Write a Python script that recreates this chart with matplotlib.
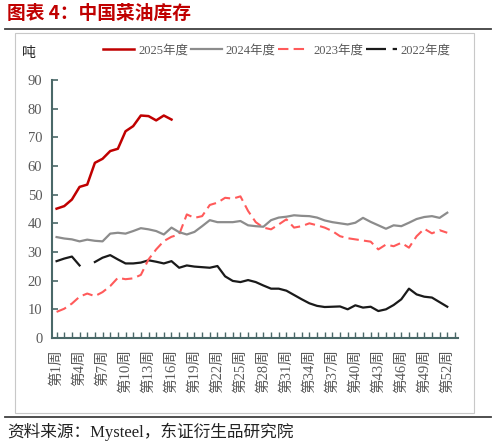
import numpy as np
import matplotlib.pyplot as plt
from matplotlib.lines import Line2D
from matplotlib.patches import Rectangle

plt.rcParams['font.family'] = ['Liberation Serif', 'Noto Sans CJK SC', 'DejaVu Sans']

# weekly rapeseed oil stock, by year (tons x10k)
weeks = np.arange(1, 54)
y2025 = [45.1, 46.0, 48.3, 52.7, 53.5, 61.1, 62.5, 65.2, 66.0, 72.1, 73.9, 77.6, 77.4, 75.9, 77.6, 76.2]
y2024 = [35.2, 34.7, 34.4, 33.7, 34.3, 33.9, 33.7, 36.4, 36.7, 36.4, 37.3, 38.3, 37.9, 37.3, 36.1, 38.5,
         36.9, 36.1, 37.0, 39.0, 41.1, 40.4, 40.4, 40.4, 40.8, 39.3, 39.0, 38.8, 41.1, 42.0, 42.3, 42.8,
         42.6, 42.5, 42.0, 41.0, 40.4, 40.0, 39.6, 40.2, 41.9, 40.5, 39.3, 38.1, 39.3, 39.0, 40.2, 41.5,
         42.2, 42.5, 41.9, 43.7]
y2023 = [9.1, 10.2, 12.0, 14.4, 15.5, 14.6, 16.0, 18.1, 21.0, 20.5, 20.8, 22.0, 27.4, 30.9, 33.8, 35.3,
         36.1, 43.1, 41.9, 42.5, 46.4, 47.2, 48.9, 48.6, 49.4, 44.3, 40.4, 38.5, 37.9, 39.6, 41.4, 38.5,
         39.0, 40.0, 39.3, 38.5, 37.3, 35.5, 34.8, 34.4, 34.0, 33.6, 30.9, 32.6, 32.0, 33.2, 31.5, 35.5,
         38.1, 36.5, 37.6, 36.7]
y2022 = [26.8, 27.7, 28.4, 25.3, np.nan, 26.5, 28.0, 28.9, 27.4, 26.0, 26.0, 26.3, 27.1, 26.6, 26.0, 26.8,
         24.5, 25.3, 24.9, 24.7, 24.5, 25.1, 21.5, 19.9, 19.5, 20.2, 19.5, 18.3, 17.2, 17.2, 16.5, 15.0,
         13.5, 12.1, 11.2, 10.8, 10.9, 11.0, 10.0, 11.4, 10.6, 10.9, 9.4, 10.0, 11.5, 13.5, 17.2, 15.2,
         14.4, 14.1, 12.5, 10.9]
labels = ['2025年度', '2024年度', '2023年度', '2022年度']
week_labels = ['第%d周' % w if (w - 1) % 3 == 0 else '' for w in weeks]

axis_col = '#4a6868'
txt_col = '#595959'

fig = plt.figure(figsize=(4.97, 4.46), dpi=100)
ax = fig.add_axes([0.1046, 0.2422, 0.8169, 0.5785])

ax.plot(weeks[:len(y2022)], y2022, color='#1a1a1a', lw=1.6)
ax.plot(weeks[:len(y2023)], y2023, color='#ff5a5a', lw=1.5, dashes=(5, 2.5))
ax.plot(weeks[:len(y2024)], y2024, color='#8c8c8c', lw=1.6)
ax.plot(weeks[:len(y2025)], y2025, color='#c00000', lw=1.8)

ax.set_xlim(0.4, 53.4)
ax.set_ylim(0, 90)
ax.set_yticks(np.arange(0, 91, 10))
ax.set_xticks(weeks)
ax.set_xticklabels(week_labels, rotation=90, fontsize=10.5, color=txt_col)
for lab in ax.get_xticklabels():
    lab.set_family(['Liberation Serif', 'Noto Sans CJK SC'])
ax.tick_params(axis='y', labelsize=10.5, labelcolor=txt_col, direction='in', length=4,
               color=axis_col, width=1.2, pad=7)
ax.tick_params(axis='x', direction='in', length=4, color=axis_col, width=1.0, pad=8)
for s in ['top', 'right']:
    ax.spines[s].set_visible(False)
for s in ['left', 'bottom']:
    ax.spines[s].set_color(axis_col)
    ax.spines[s].set_linewidth(1.5)

handles = [Line2D([], [], color='#c00000', lw=1.8),
           Line2D([], [], color='#8c8c8c', lw=1.6),
           Line2D([], [], color='#ff5a5a', lw=1.5, dashes=(5, 2.5)),
           Line2D([], [], color='#1a1a1a', lw=1.6, dashes=(9, 3))]
fig.legend(handles, labels, loc='center', bbox_to_anchor=(0.557, 0.886), ncol=4, frameon=False,
           fontsize=9, handlelength=2.5, handletextpad=0.3, columnspacing=0.2, labelcolor=txt_col)

fig.text(0.058, 0.881, '吨', ha='center', va='center', fontsize=10, family='Noto Sans CJK SC',
         color='#222222')

# frame around the chart area, title and source lines
fig.patches.append(Rectangle((0.031, 0.074), 0.9225, 0.853, transform=fig.transFigure, fill=False,
                             edgecolor='#c8c8c8', lw=0.8))
fig.add_artist(Line2D([0.010, 0.988], [0.935, 0.935], color='#404040', lw=1.3))
fig.add_artist(Line2D([0.010, 0.988], [0.065, 0.065], color='#404040', lw=1.3))
fig.text(0.014, 0.969, '图表 4：中国菜油库存', ha='left', va='center', fontsize=13.5,
         fontweight='bold', color='#c00000', family='Noto Sans CJK SC')
fig.text(0.014, 0.031, '资料来源：Mysteel，东证衍生品研究院', ha='left', va='center', fontsize=12,
         color='#222222', family=['Liberation Serif', 'Noto Sans CJK SC'])

fig.savefig('out.png', dpi=100)
